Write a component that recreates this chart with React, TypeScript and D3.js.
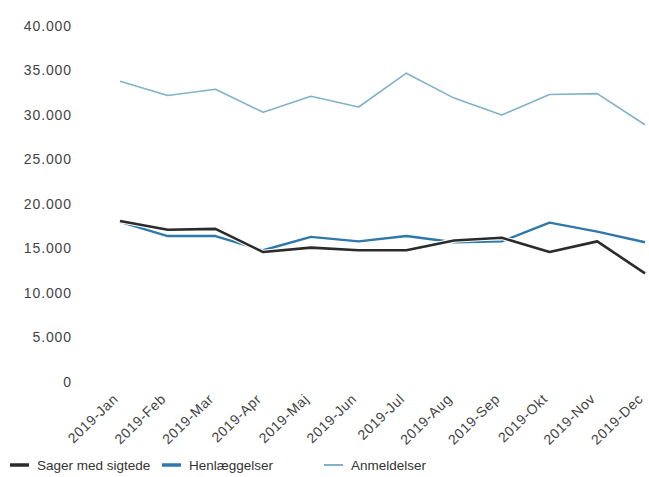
import React, { useEffect, useRef } from 'react';
import * as d3 from 'd3';

const months = [
  '2019-Jan', '2019-Feb', '2019-Mar', '2019-Apr', '2019-Maj', '2019-Jun',
  '2019-Jul', '2019-Aug', '2019-Sep', '2019-Okt', '2019-Nov', '2019-Dec',
];
const sagerMedSigtede = [18100, 17100, 17200, 14600, 15100, 14800, 14800, 15900, 16200, 14600, 15800, 12200];
const henlaeggelser = [18000, 16400, 16400, 14800, 16300, 15800, 16400, 15700, 15800, 17900, 16900, 15700];
const anmeldelser = [33800, 32200, 32900, 30300, 32100, 30900, 34700, 31900, 30000, 32300, 32400, 28900];
const yTicks = [0, 5000, 10000, 15000, 20000, 25000, 30000, 35000, 40000];

const seriesNames = ['Sager med sigtede', 'Henlæggelser', 'Anmeldelser'];
const seriesColors = ['#2b2b2b', '#2f78aa', '#82b2cb'];

const W = 649;
const H = 477;

const App: React.FC = () => {
  const svgRef = useRef<SVGSVGElement>(null);

  useEffect(() => {
    if (!svgRef.current) return;
    const svg = d3.select(svgRef.current);
    svg.selectAll('*').remove();

    const font = '"Liberation Sans", Arial, sans-serif';
    const locale = d3.formatLocale({ decimal: ',', thousands: '.', grouping: [3], currency: ['', ''] });
    const fmt = locale.format(',d');

    const x = d3.scalePoint<string>().domain(months).range([120, 645]);
    const y = d3.scaleLinear().domain([0, 40000]).range([382, 26]);

    // y-akse labels
    svg.append('g')
      .selectAll('text')
      .data(yTicks)
      .enter()
      .append('text')
      .attr('x', 72)
      .attr('y', (d) => y(d))
      .attr('dy', '0.35em')
      .attr('text-anchor', 'end')
      .style('font-family', font)
      .style('font-size', '14px')
      .style('letter-spacing', '0.9px')
      .style('fill', '#444')
      .text((d) => fmt(d));

    // x-akse labels
    svg.append('g')
      .selectAll('text')
      .data(months)
      .enter()
      .append('text')
      .attr('transform', (d) => `translate(${x(d)! - 1},400) rotate(-44)`)
      .attr('text-anchor', 'end')
      .style('font-family', font)
      .style('font-size', '14px')
      .style('letter-spacing', '0.6px')
      .style('fill', '#444')
      .text((d) => d);

    const line = d3
      .line<number>()
      .x((_, i) => x(months[i])!)
      .y((d) => y(d));

    const data = [anmeldelser, henlaeggelser, sagerMedSigtede];
    const colors = [seriesColors[2], seriesColors[1], seriesColors[0]];
    const widths = [1.6, 2.4, 2.6];

    data.forEach((vals, i) => {
      if (i > 0) {
        svg.append('path')
          .attr('d', line(vals))
          .style('fill', 'none')
          .style('stroke', '#fff')
          .style('stroke-width', widths[i] + 2)
          .style('stroke-linejoin', 'round');
      }
      svg.append('path')
        .attr('d', line(vals))
        .style('fill', 'none')
        .style('stroke', colors[i])
        .style('stroke-width', widths[i])
        .style('stroke-linejoin', 'round');
    });

    // legend
    const legendX = [10, 162, 324];
    const legendW = [3.5, 3.5, 2];
    const legend = svg.append('g');
    seriesNames.forEach((name, i) => {
      legend.append('line')
        .attr('x1', legendX[i])
        .attr('x2', legendX[i] + 19)
        .attr('y1', 465)
        .attr('y2', 465)
        .style('stroke', seriesColors[i])
        .style('stroke-width', legendW[i]);
      legend.append('text')
        .attr('x', legendX[i] + 27)
        .attr('y', 465)
        .attr('dy', '0.35em')
        .style('font-family', font)
        .style('font-size', '13.5px')
        .style('fill', '#333')
        .text(name);
    });
  }, []);

  return (
    <svg
      ref={svgRef}
      width={W}
      height={H}
      style={{ position: 'absolute', left: 0, top: 0, background: '#fff' }}
    />
  );
};

export default App;
